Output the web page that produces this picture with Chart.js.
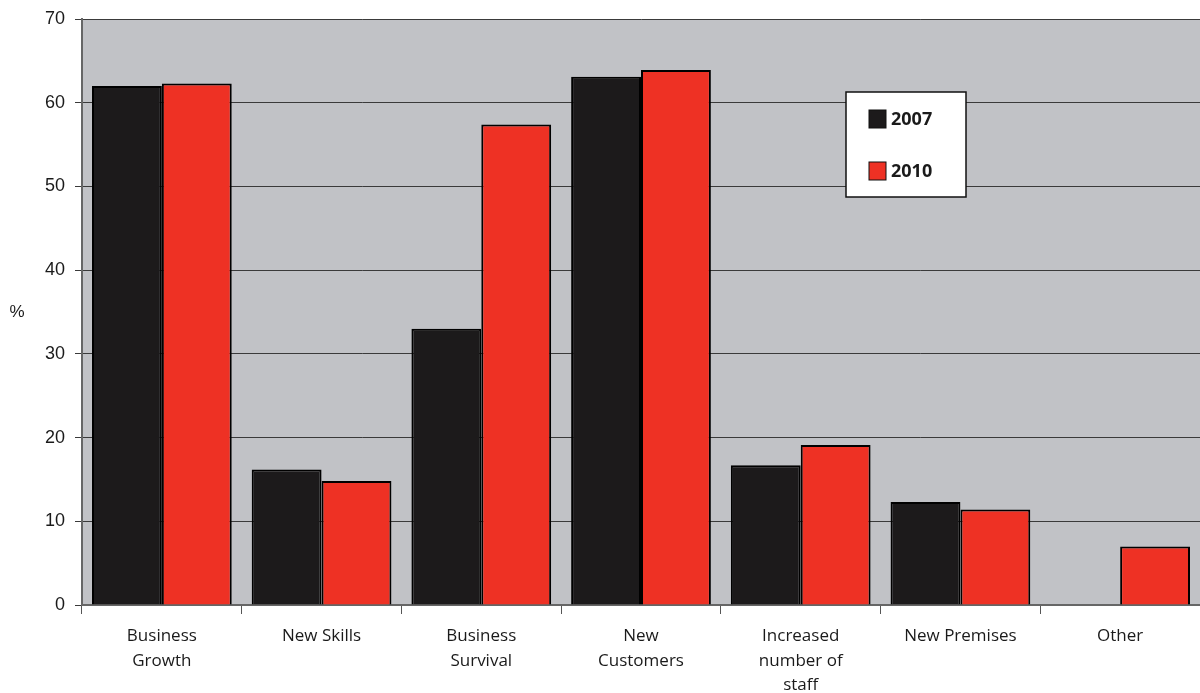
<!DOCTYPE html>
<html>
<head>
<meta charset="utf-8">
<script src="https://cdn.jsdelivr.net/npm/chart.js@4.4.0/dist/chart.umd.min.js"></script>
<style>
  html, body { margin: 0; padding: 0; background: #fff; }
  #wrap { width: 1200px; height: 693px; position: relative; }
</style>
</head>
<body>
<div id="wrap"><canvas id="myChart"></canvas></div>
<script>
// categories and series
const categories = [
  ["Business", "Growth"],
  ["New Skills"],
  ["Business", "Survival"],
  ["New", "Customers"],
  ["Increased", "number of", "staff"],
  ["New Premises"],
  ["Other"]
];
const values2007 = [62.0, 16.2, 33.0, 63.1, 16.7, 12.3, 0];
const values2010 = [62.3, 14.8, 57.4, 63.9, 19.1, 11.4, 7.0];
const yTicks = [0, 10, 20, 30, 40, 50, 60, 70];

// grey plot background, the "%" label and the boxed legend
const decor = {
  id: "decor",
  beforeDraw(chart) {
    const { ctx, chartArea: a } = chart;
    ctx.save();
    ctx.fillStyle = "#c1c2c6";
    ctx.fillRect(a.left, a.top, a.right - a.left, a.bottom - a.top);
    ctx.restore();
  },
  afterDraw(chart) {
    const ctx = chart.ctx;
    ctx.save();
    ctx.fillStyle = "#1a1a1a";
    ctx.font = "17px 'Liberation Sans'";
    ctx.textAlign = "center";
    ctx.textBaseline = "middle";
    ctx.fillText("%", 17, 312);

    // legend box
    ctx.fillStyle = "#ffffff";
    ctx.fillRect(846, 92, 120, 105);
    ctx.strokeStyle = "#111";
    ctx.lineWidth = 1.5;
    ctx.strokeRect(846, 92, 120, 105);
    chart.data.datasets.forEach((ds, i) => {
      const y = 119 + i * 52;
      ctx.fillStyle = ds.backgroundColor;
      ctx.fillRect(869, y - 9, 17, 18);
      ctx.strokeStyle = "#111";
      ctx.lineWidth = 1;
      ctx.strokeRect(869, y - 9, 17, 18);
      ctx.fillStyle = "#1a1a1a";
      ctx.font = "bold 18px 'Open Sans'";
      ctx.textAlign = "left";
      ctx.fillText(ds.label, 891, y + 1);
    });
    ctx.restore();
  }
};

const ctx = document.getElementById("myChart");
new Chart(ctx, {
  type: "bar",
  data: {
    labels: categories,
    datasets: [
      {
        label: "2007",
        data: values2007,
        backgroundColor: "#1c1a1b",
        borderColor: "#000",
        borderWidth: 2,
        categoryPercentage: 0.875,
        barPercentage: 1
      },
      {
        label: "2010",
        data: values2010,
        backgroundColor: "#ee3124",
        borderColor: "#000",
        borderWidth: 2,
        categoryPercentage: 0.875,
        barPercentage: 1
      }
    ]
  },
  options: {
    responsive: true,
    maintainAspectRatio: false,
    animation: false,
    layout: { padding: { top: 9, right: 0, left: 0, bottom: 0 } },
    plugins: {
      legend: { display: false },
      tooltip: { enabled: false }
    },
    scales: {
      x: {
        offset: true,
        grid: {
          offset: true,
          drawOnChartArea: false,
          drawTicks: true,
          tickLength: 9,
          color: "#555"
        },
        border: { color: "#666", width: 2 },
        ticks: {
          color: "#1a1a1a",
          font: { family: "'Open Sans'", size: 17, lineHeight: 1.45 },
          padding: 10,
          maxRotation: 0,
          autoSkip: false
        },
        afterFit: (s) => { s.height = 88; }
      },
      y: {
        min: 0,
        max: 70,
        afterBuildTicks: (s) => { s.ticks = yTicks.map((v) => ({ value: v })); },
        grid: {
          color: "#3a3a3a",
          lineWidth: 1,
          tickLength: 7
        },
        border: { color: "#666", width: 2 },
        ticks: {
          color: "#1a1a1a",
          font: { family: "'Liberation Sans'", size: 18, lineHeight: 1 },
          padding: 10
        },
        afterFit: (s) => { s.width = 82; }
      }
    }
  },
  plugins: [decor]
});
</script>
</body>
</html>
